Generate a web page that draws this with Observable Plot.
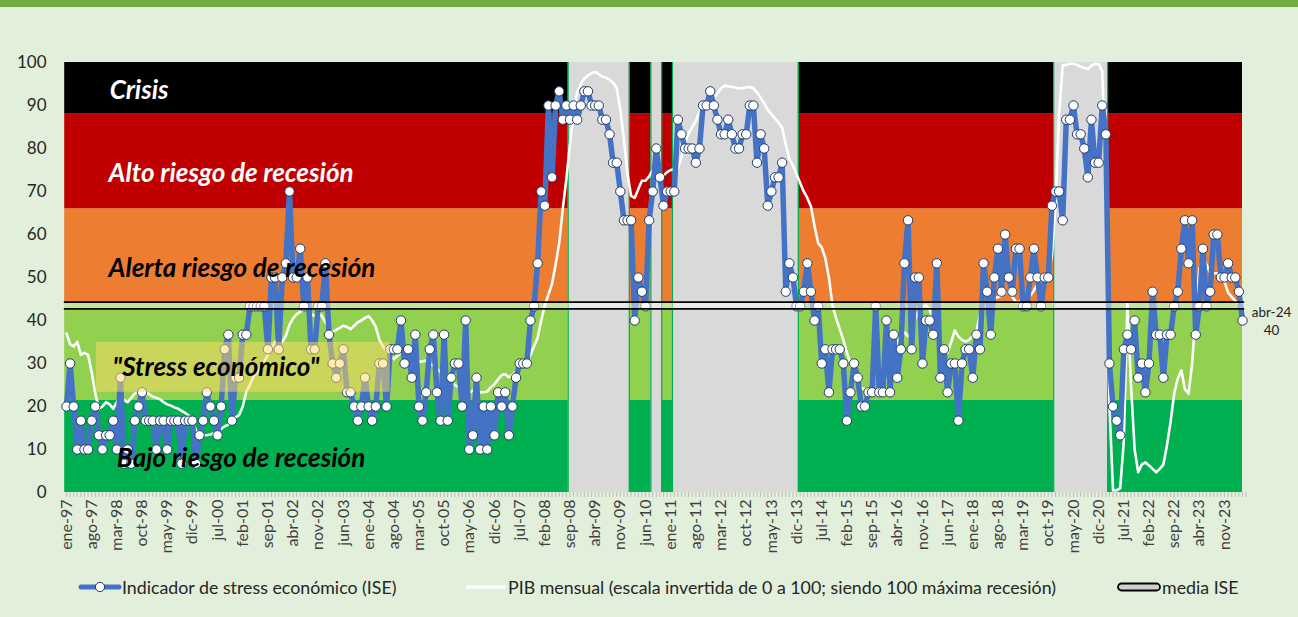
<!DOCTYPE html>
<html>
<head>
<meta charset="utf-8">
<script src="https://cdn.jsdelivr.net/npm/d3@7"></script>
<script src="https://cdn.jsdelivr.net/npm/@observablehq/plot@0.6"></script>
<style>
  html, body { margin: 0; padding: 0; background: #e2efda; }
  body { width: 1298px; height: 617px; position: relative; overflow: hidden; font-family: Lato, "Open Sans", sans-serif; }
  #stripe { position: absolute; left: 0; top: 0; width: 1298px; height: 7px; background: #70ad47; }
  #chart { position: absolute; left: 0; top: 7px; }
  #legend { position: absolute; left: 0; top: 575px; width: 1298px; height: 24px; font-size: 17.8px; color: #262626; }
  #legend .item { position: absolute; top: 0; display: flex; align-items: center; height: 24px; white-space: nowrap; }
  #legend svg { display: block; }
</style>
</head>
<body>
<div id="stripe"></div>
<div id="chart"></div>
<div id="legend"></div>
<script>
// ---- data ----
const tickLabels = ["ene-97","ago-97","mar-98","oct-98","may-99","dic-99","jul-00","feb-01","sep-01","abr-02","nov-02","jun-03","ene-04","ago-04","mar-05","oct-05","may-06","dic-06","jul-07","feb-08","sep-08","abr-09","nov-09","jun-10","ene-11","ago-11","mar-12","oct-12","may-13","dic-13","jul-14","feb-15","sep-15","abr-16","nov-16","jun-17","ene-18","ago-18","mar-19","oct-19","may-20","dic-20","jul-21","feb-22","sep-22","abr-23","nov-23"];
const monthNames = ["ene","feb","mar","abr","may","jun","jul","ago","sep","oct","nov","dic"];
const firstYear = 1997;

// Indicador de stress económico (ISE), monthly ene-97 .. abr-24
const ise = [
  20,30,20,10,16.7,10,10,16.7,20,13.3,
  10,13.3,13.3,16.7,10,26.7,6.7,10,6.7,16.7,
  20,23.3,16.7,16.7,16.7,10,16.7,16.7,10,16.7,
  16.7,16.7,6.7,16.7,16.7,16.7,6.7,13.3,16.7,23.3,
  20,16.7,13.3,20,33.3,36.7,16.7,26.7,26.7,36.7,
  36.7,43.3,43.3,43.3,43.3,43.3,33.3,50,50,33.3,
  50,53.3,70,50,50,56.7,43.3,50,33.3,33.3,
  43.3,43.3,53.3,36.7,30,26.7,30,33.3,23.3,23.3,
  20,16.7,20,26.7,20,16.7,20,30,30,20,
  33.3,33.3,33.3,40,30,33.3,26.7,36.7,20,16.7,
  23.3,33.3,36.7,23.3,16.7,36.7,16.7,26.7,30,30,
  20,40,10,13.3,26.7,10,20,10,20,13.3,
  23.3,20,23.3,13.3,20,26.7,30,30,30,40,
  43.3,53.3,70,66.7,90,73.3,90,93.3,86.7,90,
  86.7,90,86.7,90,93.3,93.3,90,90,90,86.7,
  86.7,83.3,76.7,76.7,70,63.3,63.3,63.3,40,50,
  46.7,43.3,63.3,70,80,73.3,66.7,70,70,70,
  86.7,83.3,80,80,80,76.7,80,90,90,93.3,
  90,86.7,83.3,83.3,86.7,83.3,80,80,83.3,83.3,
  90,90,76.7,83.3,80,66.7,70,73.3,73.3,76.7,
  46.7,53.3,50,43.3,43.3,46.7,53.3,46.7,40,43.3,
  30,33.3,23.3,33.3,33.3,33.3,30,16.7,23.3,30,
  26.7,20,20,23.3,23.3,43.3,23.3,23.3,40,23.3,
  36.7,26.7,33.3,53.3,63.3,33.3,50,50,30,40,
  40,36.7,53.3,26.7,33.3,23.3,30,30,16.7,30,
  33.3,33.3,26.7,36.7,33.3,53.3,46.7,36.7,50,56.7,
  46.7,60,50,46.7,56.7,56.7,43.3,43.3,50,56.7,
  50,43.3,50,50,66.7,70,70,63.3,86.7,86.7,
  90,83.3,83.3,80,73.3,86.7,76.7,76.7,90,83.3,
  30,20,16.7,13.3,33.3,36.7,33.3,40,26.7,30,
  23.3,30,46.7,36.7,36.7,26.7,36.7,36.7,43.3,46.7,
  56.7,63.3,53.3,63.3,36.7,43.3,56.7,43.3,46.7,60,
  60,50,50,53.3,50,50,46.7,40
];

// PIB mensual (escala invertida 0-100), monthly ene-97 .. abr-24
const pib = [
  37,34.5,34,35,32,32.5,32,28,23,19.5,
  20,21,20.5,19.5,21,22.5,21.5,21,22,23,
  23.3,24,23.5,22.8,22.3,22,21.7,21,20.5,20.2,
  19.8,19.5,19,18.5,17.9,16.5,14.5,13.3,13.3,13.3,
  13.5,13.8,14,14.8,15.4,15.8,17,17.5,18,20,
  23.5,25,27,28,29.5,30.5,32,33.5,35,35.7,
  35,36.5,39,40.5,41.5,42,42.5,42.7,41.5,41,
  42,41,39.6,38,37.3,37.8,38.3,38.8,38.5,38,
  38.8,39.6,40,40.6,41,40,38.5,35.5,34,32.8,
  32,31,31.8,32.6,33.5,33.5,32,31,30.4,30.5,
  30.7,30,29.5,28.8,28,27,26.4,25.6,25,24.5,
  23.5,23,23.2,23.7,23.5,23.3,23.3,23.5,24.5,25.2,
  26.3,27.3,27.5,26.8,27.3,28.2,29,29.8,30.3,32,
  34,36,40,43.5,46,48.5,53,58,66,73,
  81,88.5,93,95,96.3,97,97.5,97.8,97.3,96.7,
  96.5,96,95.3,94,89,82,74,69,68.5,70.6,
  72.5,72.5,73.5,75,76,72,73.7,74.5,75,75.2,
  75.3,78,81.5,83.5,85,86.5,88.5,90,90.6,91.2,
  91.7,92.8,94,94.6,94.5,94.3,94.2,94,94,94.2,
  94.3,94,93,91.8,90.5,89,88,87,86,84.8,
  81,77.6,76,74,72,70,68.5,66.5,62,58,
  57,54.5,50,43.5,40.5,38,35.5,32.5,30,27.5,
  25,24.3,24,23.8,23.5,23.3,23.5,24.2,26.5,29.5,
  32.5,35,36.3,37.3,36.3,37,40.5,42.5,43.2,43.5,
  42.5,40.5,38.5,34.5,33.2,32.6,35,37.7,36.3,35.5,
  35.1,35.5,36.5,37.3,41.5,45.8,45.5,45,45.2,45.4,
  45.8,46.3,47,45.5,44.3,44.3,45,45.5,45.8,47,
  48.5,49.2,50,51,55,67,88,99.3,99.5,99.7,
  99.7,99.5,99,98.7,98.5,99.3,99.7,99.6,98,75,
  20,0.5,0.5,1,12,44,25,10,4.7,6.5,
  7,6.3,5.5,4.7,5.5,6.5,11,16.4,23,26.5,
  28.4,24,23,30,42,52,55,53,51,51,
  51,50,49,46.5,45.5,44.5,44,44
];

const meanISE = 43.5;

// risk zones (value ranges)
const zoneFrom  = [0, 21.5, 44, 66, 88];
const zoneTo    = [21.5, 44, 66, 88, 100];
const zoneColor = ["#00b050", "#92d050", "#ed7d31", "#c00000", "#000000"];

// recession periods (first and last month, "yyyy-mm")
const recStart = ["2008-09", "2010-08", "2011-02", "2019-12"];
const recEnd   = ["2010-01", "2010-10", "2013-12", "2021-02"];

// zone labels
const zoneText  = ["Crisis", "Alto riesgo de recesión", "Alerta riesgo de recesión", "\"Stress económico\"", "Bajo riesgo de recesión"];
const zoneTextY = [93.5, 74.2, 52.1, 29.1, 7.9];
const zoneTextX = [12, 11.7, 11.7, 12.8, 14];
const zoneTextColor = ["white", "white", "black", "black", "black"];

// ---- derived tables ----
const idx = s => (+s.slice(0,4) - firstYear) * 12 + (+s.slice(5,7) - 1);
const monthLabel = i => monthNames[i % 12] + "-" + String((firstYear + Math.floor(i / 12)) % 100).padStart(2, "0");
const iseData = ise.map((v, i) => ({i, v}));
const pibData = pib.map((v, i) => ({i, v}));
const zones = zoneFrom.map((f, k) => ({from: f, to: zoneTo[k], color: zoneColor[k]}));
const recessions = recStart.map((s, k) => ({a: idx(s) - 0.5, b: idx(recEnd[k]) + 0.5}));
const recEdges = recessions.flatMap(r => [r.a, r.b]);
const labels = zoneText.map((t, k) => ({t, x: zoneTextX[k], y: zoneTextY[k], c: zoneTextColor[k]}));
const lastI = ise.length - 1;
const nMonths = ise.length;

const chart = Plot.plot({
  width: 1298,
  height: 563,
  marginTop: 55,
  marginBottom: 78,
  marginLeft: 66,
  marginRight: 56,
  style: {background: "transparent", fontFamily: "Lato, 'Open Sans', sans-serif", color: "#262626", overflow: "visible"},
  x: {domain: [0, nMonths - 1]},
  y: {domain: [0, 100]},
  marks: [
    Plot.rect(zones, {x1: -0.5, x2: nMonths - 1, y1: "from", y2: "to", fill: "color"}),
    Plot.rect(recessions, {x1: "a", x2: "b", y1: 0, y2: 100, fill: "#d9d9d9"}),
    Plot.ruleX(recEdges, {y1: 0, y2: 100, stroke: "#00b050", strokeWidth: 1.2}),
    Plot.line(pibData, {x: "i", y: "v", stroke: "white", strokeWidth: 2.6, curve: "linear"}),
    Plot.line(iseData, {x: "i", y: "v", stroke: "#4472c4", strokeWidth: 5.5, strokeLinejoin: "round"}),
    Plot.dot(iseData, {x: "i", y: "v", r: 4.7, fill: "white", stroke: "#1f3864", strokeWidth: 1}),
    // stress box overlay
    Plot.rect([0], {x1: 8.3, x2: 90, y1: 23.3, y2: 34.9, fill: "#ffd966", fillOpacity: 0.5}),
    // mean ISE double line
    Plot.ruleY([meanISE], {x1: -0.6, x2: nMonths - 0.4, stroke: "white", strokeOpacity: 0.45, strokeWidth: 5.5}),
    Plot.ruleY([meanISE], {x1: -0.6, x2: nMonths - 0.4, stroke: "black", strokeWidth: 1.8, dy: -3.4}),
    Plot.ruleY([meanISE], {x1: -0.6, x2: nMonths - 0.4, stroke: "black", strokeWidth: 1.8, dy: 3.4}),
    // zone labels
    Plot.text(labels, {x: "x", y: "y", text: "t", fill: "c", textAnchor: "start", fontSize: 26, fontWeight: "bold", fontStyle: "italic"}),
    // last value
    Plot.text([lastI], {x: d => d, y: d => ise[d], text: d => monthLabel(d) + "\n" + Math.round(ise[d]), dx: 29, fontSize: 13.5, lineHeight: 1.35, fill: "#222"}),
    // axes
    Plot.axisY({ticks: d3.range(0, 101, 10), tickSize: 0, tickPadding: 20, fontSize: 17}),
    Plot.axisX({ticks: d3.range(0, nMonths + 1), tickSize: 5, tickFormat: () => "", stroke: "#bdbdbd"}),
    Plot.axisX({ticks: tickLabels.map((_, k) => k * 7), tickSize: 0, tickPadding: 7, tickRotate: -90, fontSize: 16, fill: "#404040", tickFormat: d => tickLabels[d / 7]})
  ]
});
document.getElementById("chart").appendChild(chart);

// ---- legend ----
const legend = document.getElementById("legend");
function addItem(left, symbolSvg, text) {
  const d = document.createElement("div");
  d.className = "item";
  d.style.left = left + "px";
  d.innerHTML = symbolSvg + "<span>" + text + "</span>";
  legend.appendChild(d);
}
addItem(78,
  '<svg width="44" height="24"><line x1="3" y1="12" x2="41" y2="12" stroke="#4472c4" stroke-width="5" stroke-linecap="round"/><circle cx="22" cy="12" r="4.6" fill="white" stroke="#1f3864" stroke-width="1"/></svg>',
  "Indicador de stress económico (ISE)");
addItem(464,
  '<svg width="44" height="24"><line x1="2" y1="12" x2="42" y2="12" stroke="white" stroke-width="3"/></svg>',
  "PIB mensual (escala invertida de 0 a 100; siendo 100 máxima recesión)");
addItem(1116,
  '<svg width="46" height="24"><rect x="2" y="8.5" width="42" height="7" rx="3.5" fill="#cfcfcf" stroke="black" stroke-width="1.8"/></svg>',
  "media ISE");
</script>
</body>
</html>
